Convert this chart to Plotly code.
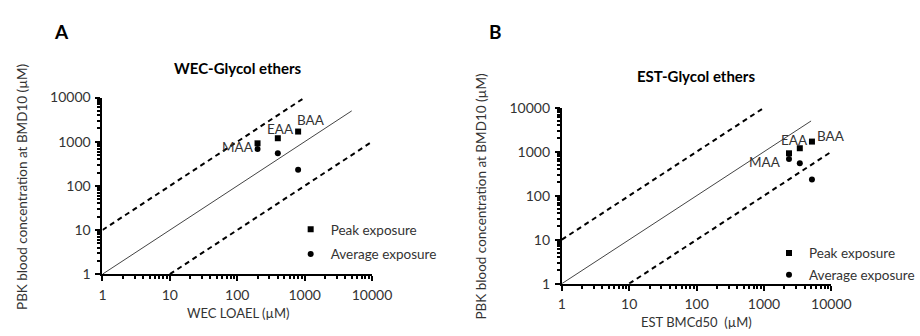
import math
import plotly.graph_objects as go

# ---- data ----
compounds = ["MAA", "EAA", "BAA"]
wec_loael = [200, 400, 800]
est_bmcd50 = [2350, 3400, 5150]
peak_conc = [920, 1200, 1700]
avg_conc = [680, 550, 233]
unity_x = [1, 5000]
upper_x = [1, 1000]
lower_x = [10, 10000]
fold = 10

FONT = "Lato"
TXT = "#333333"

fig = go.Figure()

panels = [
    dict(xa="x", ya="y", xs=wec_loael, legend="legend"),
    dict(xa="x2", ya="y2", xs=est_bmcd50, legend="legend2"),
]

for p in panels:
    fig.add_trace(go.Scatter(x=unity_x, y=unity_x, mode="lines",
                             line=dict(color="#444444", width=1),
                             xaxis=p["xa"], yaxis=p["ya"], showlegend=False, cliponaxis=False))
    fig.add_trace(go.Scatter(x=upper_x, y=[v * fold for v in upper_x], mode="lines",
                             line=dict(color="black", width=2, dash="5px,4px"),
                             xaxis=p["xa"], yaxis=p["ya"], showlegend=False, cliponaxis=False))
    fig.add_trace(go.Scatter(x=lower_x, y=[v / fold for v in lower_x], mode="lines",
                             line=dict(color="black", width=2, dash="5px,4px"),
                             xaxis=p["xa"], yaxis=p["ya"], showlegend=False, cliponaxis=False))
    fig.add_trace(go.Scatter(x=p["xs"], y=peak_conc, mode="markers", name="Peak exposure",
                             marker=dict(symbol="square", size=6, color="black"),
                             xaxis=p["xa"], yaxis=p["ya"], legend=p["legend"],
                             legendgroup="a", cliponaxis=False))
    fig.add_trace(go.Scatter(x=p["xs"], y=avg_conc, mode="markers", name="Average exposure",
                             marker=dict(symbol="circle", size=6, color="black"),
                             xaxis=p["xa"], yaxis=p["ya"], legend=p["legend"],
                             legendgroup="b", cliponaxis=False))

axis_common = dict(
    type="log", range=[0, 4], showgrid=False, zeroline=False,
    showline=True, linecolor="black", linewidth=2,
    ticks="outside", ticklen=5, tickwidth=2, tickcolor="black",
    tickmode="linear", tick0=0, dtick=1, tickformat="d", ticklabelstandoff=2,
    tickfont=dict(family=FONT, size=14, color=TXT),
    minor=dict(ticks="outside", ticklen=3, tickwidth=1.5, tickcolor="black",
               dtick="D1", showgrid=False),
)

W, H = 920, 336
def px_x(v):
    return v / W
def px_y(v):
    return 1 - v / H

fig.update_layout(
    width=W, height=H, margin=dict(l=0, r=0, t=0, b=0),
    paper_bgcolor="white", plot_bgcolor="white",
    xaxis=dict(axis_common, domain=[px_x(101.7), px_x(380)], anchor="y"),
    yaxis=dict(axis_common, domain=[px_y(279.3), px_y(93.3)], anchor="x"),
    xaxis2=dict(axis_common, domain=[px_x(576), px_x(854.3)], anchor="y2"),
    yaxis2=dict(axis_common, domain=[px_y(289.3), px_y(104)], anchor="x2"),
    legend=dict(x=px_x(296), y=px_y(216), xanchor="left", yanchor="top",
                font=dict(family=FONT, size=13.5, color=TXT), bgcolor="rgba(0,0,0,0)",
                tracegroupgap=4),
    legend2=dict(x=px_x(790), y=px_y(241), xanchor="left", yanchor="top",
                 font=dict(family=FONT, size=13.5, color=TXT), bgcolor="rgba(0,0,0,0)",
                 tracegroupgap=1),
    showlegend=True,
)

def pann(text, x, y, size, color=TXT, angle=0):
    return dict(text=text, x=px_x(x), y=px_y(y), xref="paper", yref="paper",
                xanchor="center", yanchor="middle", textangle=angle,
                showarrow=False, font=dict(family=FONT, size=size, color=color))

ann = [
    pann("<b>A</b>", 59, 24, 19, "black"),
    pann("<b>B</b>", 508, 24, 19, "black"),
    pann("<b>WEC-Glycol ethers</b>", 241.7, 61.7, 15, "black"),
    pann("<b>EST-Glycol ethers</b>", 715, 70.7, 15, "black"),
    pann("WEC LOAEL (µM)", 241.7, 320, 13),
    pann("EST BMCd50  (µM)", 715, 330, 13),
    pann("PBK blood concentration at BMD10 (µM)", 18, 187, 13.5, angle=-90),
    pann("PBK blood concentration at BMD10 (µM)", 493, 197, 13.5, angle=-90),
]

# compound labels (anchored to peak points)
lab_a = {"MAA": dict(xanchor="right", xshift=-2, yshift=-4),
         "EAA": dict(xanchor="center", xshift=3, yshift=9),
         "BAA": dict(xanchor="center", xshift=13, yshift=12)}
lab_b = {"MAA": dict(xanchor="right", xshift=-6, yshift=-9),
         "EAA": dict(xanchor="center", xshift=-5, yshift=8),
         "BAA": dict(xanchor="center", xshift=19, yshift=6)}
for i, c in enumerate(compounds):
    ann.append(dict(text=c, x=math.log10(wec_loael[i]), y=math.log10(peak_conc[i]), xref="x", yref="y",
                    yanchor="middle", showarrow=False, font=dict(family=FONT, size=13.5, color=TXT), **lab_a[c]))
    ann.append(dict(text=c, x=math.log10(est_bmcd50[i]), y=math.log10(peak_conc[i]), xref="x2", yref="y2",
                    yanchor="middle", showarrow=False, font=dict(family=FONT, size=13.5, color=TXT), **lab_b[c]))

fig.update_layout(annotations=ann)
fig.write_html("out.html")
